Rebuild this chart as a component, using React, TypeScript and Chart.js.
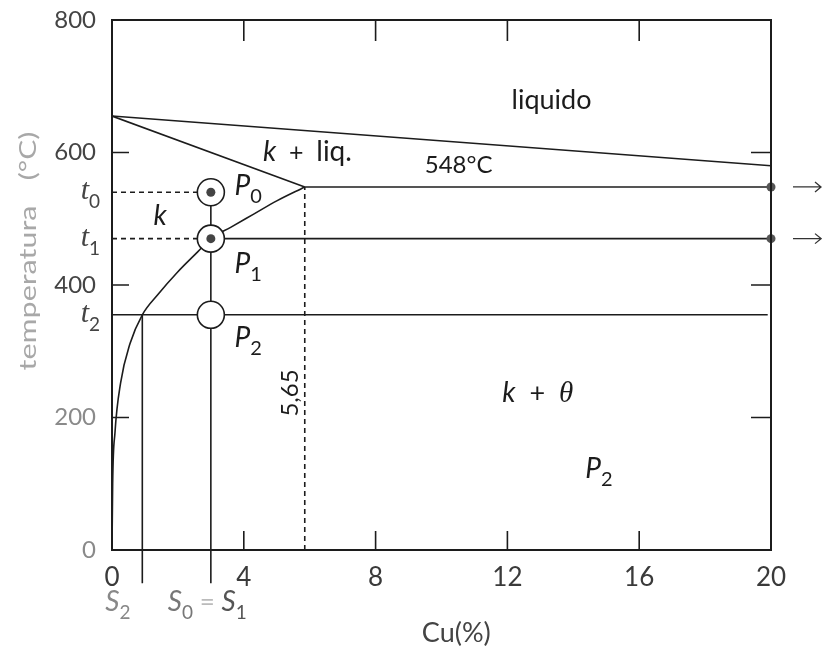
import React, { useEffect, useRef } from 'react';
import { Chart, registerables } from 'chart.js';

Chart.register(...registerables);

// ---- data (Cu %, temperature °C) ----
const xTickValues = [0, 4, 8, 12, 16, 20];
const yTickValues = [0, 200, 400, 600, 800];
const innerXTicks = [4, 8, 12, 16];
const innerYTicks = [200, 400, 600];

const liquidusCu = [0, 20];
const liquidusT = [655, 580];
const solidusCu = [0, 5.85];
const solidusT = [655, 548];
const eutecticCu = [5.85, 20];
const eutecticT = [548, 548];
const solvusCu = [0, 0.02, 0.09, 0.26, 0.55, 0.92, 1.4, 2.0, 2.6, 3.0, 3.6, 4.3, 5.0, 5.85];
const solvusT = [0, 100, 177, 252, 312, 355, 386, 420, 450, 470, 487, 507, 527, 548];

const t0 = 540;
const t1 = 470;
const t2 = 355;
const S0 = 3;
const S2 = 0.92;
const eutecticComp = 5.85;
const axisBelow = -50;

const stateCu = [S0, S0, S0];
const stateT = [t0, t1, t2];
const coreCu = [S0, S0];
const coreT = [t0, t1];
const edgeCu = [20, 20];
const edgeT = [548, t1];

const pts = (xs: number[], ys: number[]) => xs.map((x, i) => ({ x, y: ys[i] }));

const INK = '#1c1c1c';

function lineDs(xs: number[], ys: number[], dash: number[] = [], extra: any = {}) {
  return {
    data: pts(xs, ys),
    showLine: true,
    borderColor: INK,
    borderWidth: 1.6,
    borderDash: dash,
    pointRadius: 0,
    pointHoverRadius: 0,
    fill: false,
    order: 3,
    ...extra,
  };
}

type Part = { t: string; f: string; dy?: number; c?: string };

const sansR = (s: number) => `${s}px Lato`;
const sansI = (s: number) => `italic ${s}px Lato`;
const serifI = (s: number) => `italic ${s}px "Liberation Serif"`;

function drawParts(ctx: CanvasRenderingContext2D, parts: Part[], x: number, y: number, align: 'left' | 'center' | 'right') {
  const widths = parts.map((p) => {
    ctx.font = p.f;
    return ctx.measureText(p.t).width;
  });
  const total = widths.reduce((a, b) => a + b, 0);
  let cx = align === 'center' ? x - total / 2 : align === 'right' ? x - total : x;
  ctx.textAlign = 'left';
  ctx.textBaseline = 'alphabetic';
  parts.forEach((p, i) => {
    ctx.font = p.f;
    ctx.fillStyle = p.c || INK;
    ctx.fillText(p.t, cx, y + (p.dy || 0));
    cx += widths[i];
  });
}

function stretchedVertical(ctx: CanvasRenderingContext2D, text: string, x: number, cy: number, font: string, sx: number, color: string) {
  ctx.save();
  ctx.translate(x, cy);
  ctx.rotate(-Math.PI / 2);
  ctx.scale(sx, 1);
  ctx.font = font;
  ctx.fillStyle = color;
  ctx.textAlign = 'center';
  ctx.textBaseline = 'middle';
  ctx.fillText(text, 0, 0);
  ctx.restore();
}

const decorPlugin = {
  id: 'decor',
  afterDatasetsDraw(chart: any) {
    const { ctx, chartArea, scales } = chart;
    const xs = scales.x;
    const ys = scales.y;
    const X = (v: number) => xs.getPixelForValue(v);
    const Y = (v: number) => ys.getPixelForValue(v);
    const { left, right, top, bottom } = chartArea;
    ctx.save();

    // frame
    ctx.strokeStyle = INK;
    ctx.lineWidth = 2;
    ctx.setLineDash([]);
    ctx.strokeRect(left, top, right - left, bottom - top);

    // inward ticks
    const tl = 19;
    ctx.lineWidth = 1.6;
    ctx.beginPath();
    innerXTicks.forEach((v) => {
      const px = X(v);
      ctx.moveTo(px, bottom);
      ctx.lineTo(px, bottom - tl);
      ctx.moveTo(px, top);
      ctx.lineTo(px, top + tl + 2);
    });
    innerYTicks.forEach((v) => {
      const py = Y(v);
      ctx.moveTo(left, py);
      ctx.lineTo(left + tl - 2, py);
      ctx.moveTo(right, py);
      ctx.lineTo(right - tl - 1, py);
    });
    ctx.stroke();

    // arrows beyond right edge
    [548, t1].forEach((v) => {
      const py = Y(v);
      const x1 = right + 22;
      const x2 = right + 50;
      ctx.beginPath();
      ctx.lineWidth = 1.3;
      ctx.strokeStyle = '#333';
      ctx.moveTo(x1, py);
      ctx.lineTo(x2, py);
      ctx.moveTo(x2 - 6, py - 5);
      ctx.lineTo(x2, py);
      ctx.lineTo(x2 - 6, py + 5);
      ctx.stroke();
    });

    // region labels
    drawParts(ctx, [{ t: 'liquido', f: sansR(27) }], X(13.34), Y(666), 'center');
    drawParts(ctx, [
      { t: 'k', f: sansI(28) },
      { t: '  +  ', f: sansR(25) },
      { t: 'liq.', f: sansR(28) },
    ], X(5.93), Y(587), 'center');
    drawParts(ctx, [{ t: '548°C', f: sansR(24) }], X(10.52), Y(569), 'center');
    drawParts(ctx, [{ t: 'k', f: sansI(28) }], X(1.46), Y(491), 'center');
    drawParts(ctx, [
      { t: 'k', f: sansI(28) },
      { t: '  +  ', f: sansR(27) },
      { t: 'θ', f: serifI(29) },
    ], X(12.92), Y(223), 'center');

    const pLabel = (sub: string, x: number, y: number) =>
      drawParts(ctx, [
        { t: 'P', f: sansI(28) },
        { t: sub, f: sansR(20), dy: 8 },
      ], X(x), Y(y), 'left');
    pLabel('0', 3.72, 536);
    pLabel('1', 3.72, 418);
    pLabel('2', 3.72, 306);
    pLabel('2', 14.36, 109);

    // 5,65 rotated
    ctx.save();
    ctx.translate(X(5.41), Y(237));
    ctx.rotate(-Math.PI / 2);
    ctx.font = sansR(24);
    ctx.fillStyle = INK;
    ctx.textAlign = 'center';
    ctx.textBaseline = 'middle';
    ctx.fillText('5,65', 0, 0);
    ctx.restore();

    // temperature marks t0, t1, t2
    const tLabel = (sub: string, v: number) =>
      drawParts(ctx, [
        { t: 't', f: serifI(30), c: '#444' },
        { t: sub, f: sansR(19), dy: 9, c: '#444' },
      ], left - 12, Y(v) + 7, 'right');
    tLabel('0', t0);
    tLabel('1', t1);
    tLabel('2', t2);

    // composition marks
    const sy = bottom + 61;
    drawParts(ctx, [
      { t: 'S', f: sansI(28), c: '#888' },
      { t: '2', f: sansR(19), dy: 8, c: '#888' },
    ], X(0.18), sy, 'center');
    drawParts(ctx, [
      { t: 'S', f: sansI(28), c: '#777' },
      { t: '0', f: sansR(19), dy: 8, c: '#777' },
      { t: ' = ', f: sansR(26), c: '#bbb' },
      { t: 'S', f: sansI(28), c: '#555' },
      { t: '1', f: sansR(19), dy: 8, c: '#555' },
    ], X(2.89), sy, 'center');

    // axis titles
    drawParts(ctx, [{ t: 'Cu(%)', f: sansR(27), c: '#444' }], X(10.45), bottom + 92, 'center');
    stretchedVertical(ctx, 'temperatura', 28, 288, sansR(24), 1.27, '#a8a8a8');
    stretchedVertical(ctx, '(°C)', 28, 156, sansR(24), 1.25, '#a8a8a8');

    ctx.restore();
  },
};

export default function App() {
  const ref = useRef<HTMLCanvasElement | null>(null);

  useEffect(() => {
    if (!ref.current) return;
    const chart = new Chart(ref.current, {
      type: 'scatter',
      data: {
        datasets: [
          lineDs(liquidusCu, liquidusT),
          lineDs(solidusCu, solidusT),
          lineDs(eutecticCu, eutecticT),
          lineDs(solvusCu, solvusT, [], { cubicInterpolationMode: 'monotone' }),
          lineDs([0, S0], [t0, t0], [5, 4]),
          lineDs([0, S0], [t1, t1], [5, 4]),
          lineDs([S0, 20], [t1, t1]),
          lineDs([0, 19.9], [t2, t2]),
          lineDs([S0, S0], [axisBelow, t0], [], { clip: false }),
          lineDs([S2, S2], [axisBelow, t2], [], { clip: false }),
          lineDs([eutecticComp, eutecticComp], [0, 548], [5, 4]),
          {
            data: pts(stateCu, stateT),
            showLine: false,
            pointRadius: 13.5,
            pointHoverRadius: 13.5,
            pointBackgroundColor: '#ffffff',
            pointBorderColor: INK,
            pointBorderWidth: 1.6,
            order: 2,
          },
          {
            data: pts(coreCu, coreT),
            showLine: false,
            pointRadius: 4.5,
            pointHoverRadius: 4.5,
            pointBackgroundColor: '#444',
            pointBorderColor: '#444',
            pointBorderWidth: 0,
            order: 1,
          },
          {
            data: pts(edgeCu, edgeT),
            showLine: false,
            pointRadius: 4.5,
            pointHoverRadius: 4.5,
            pointBackgroundColor: '#555',
            pointBorderColor: '#555',
            pointBorderWidth: 0,
            clip: false,
            order: 1,
          },
        ] as any,
      },
      options: {
        animation: false,
        responsive: false,
        devicePixelRatio: 1,
        events: [],
        layout: { padding: { top: 20, right: 51, left: 0, bottom: 0 } },
        plugins: {
          legend: { display: false },
          tooltip: { enabled: false },
          title: { display: false },
        },
        scales: {
          x: {
            type: 'linear',
            min: 0,
            max: 20,
            afterBuildTicks: (s: any) => {
              s.ticks = xTickValues.map((v) => ({ value: v }));
            },
            afterFit: (s: any) => {
              s.height = 100;
              s.paddingLeft = 0;
              s.paddingRight = 0;
            },
            grid: { display: false, drawTicks: false },
            border: { display: false },
            ticks: {
              font: { family: 'Lato', size: 26 },
              color: '#3a3a3a',
              padding: 12,
              maxRotation: 0,
            },
          },
          y: {
            type: 'linear',
            min: 0,
            max: 800,
            afterBuildTicks: (s: any) => {
              s.ticks = yTickValues.map((v) => ({ value: v }));
            },
            afterFit: (s: any) => {
              s.width = 112;
              s.paddingTop = 0;
              s.paddingBottom = 0;
            },
            grid: { display: false, drawTicks: false },
            border: { display: false },
            ticks: {
              font: { family: 'Lato', size: 24 },
              color: (c: any) => (c.tick && c.tick.value <= 200 ? '#8a8a8a' : '#444'),
              padding: 16,
            },
          },
        },
      } as any,
      plugins: [decorPlugin],
    });
    return () => chart.destroy();
  }, []);

  return (
    <div style={{ position: 'fixed', left: 0, top: 0, width: 822, height: 650, background: '#fff' }}>
      <canvas ref={ref} width={822} height={650} style={{ display: 'block' }} />
    </div>
  );
}
